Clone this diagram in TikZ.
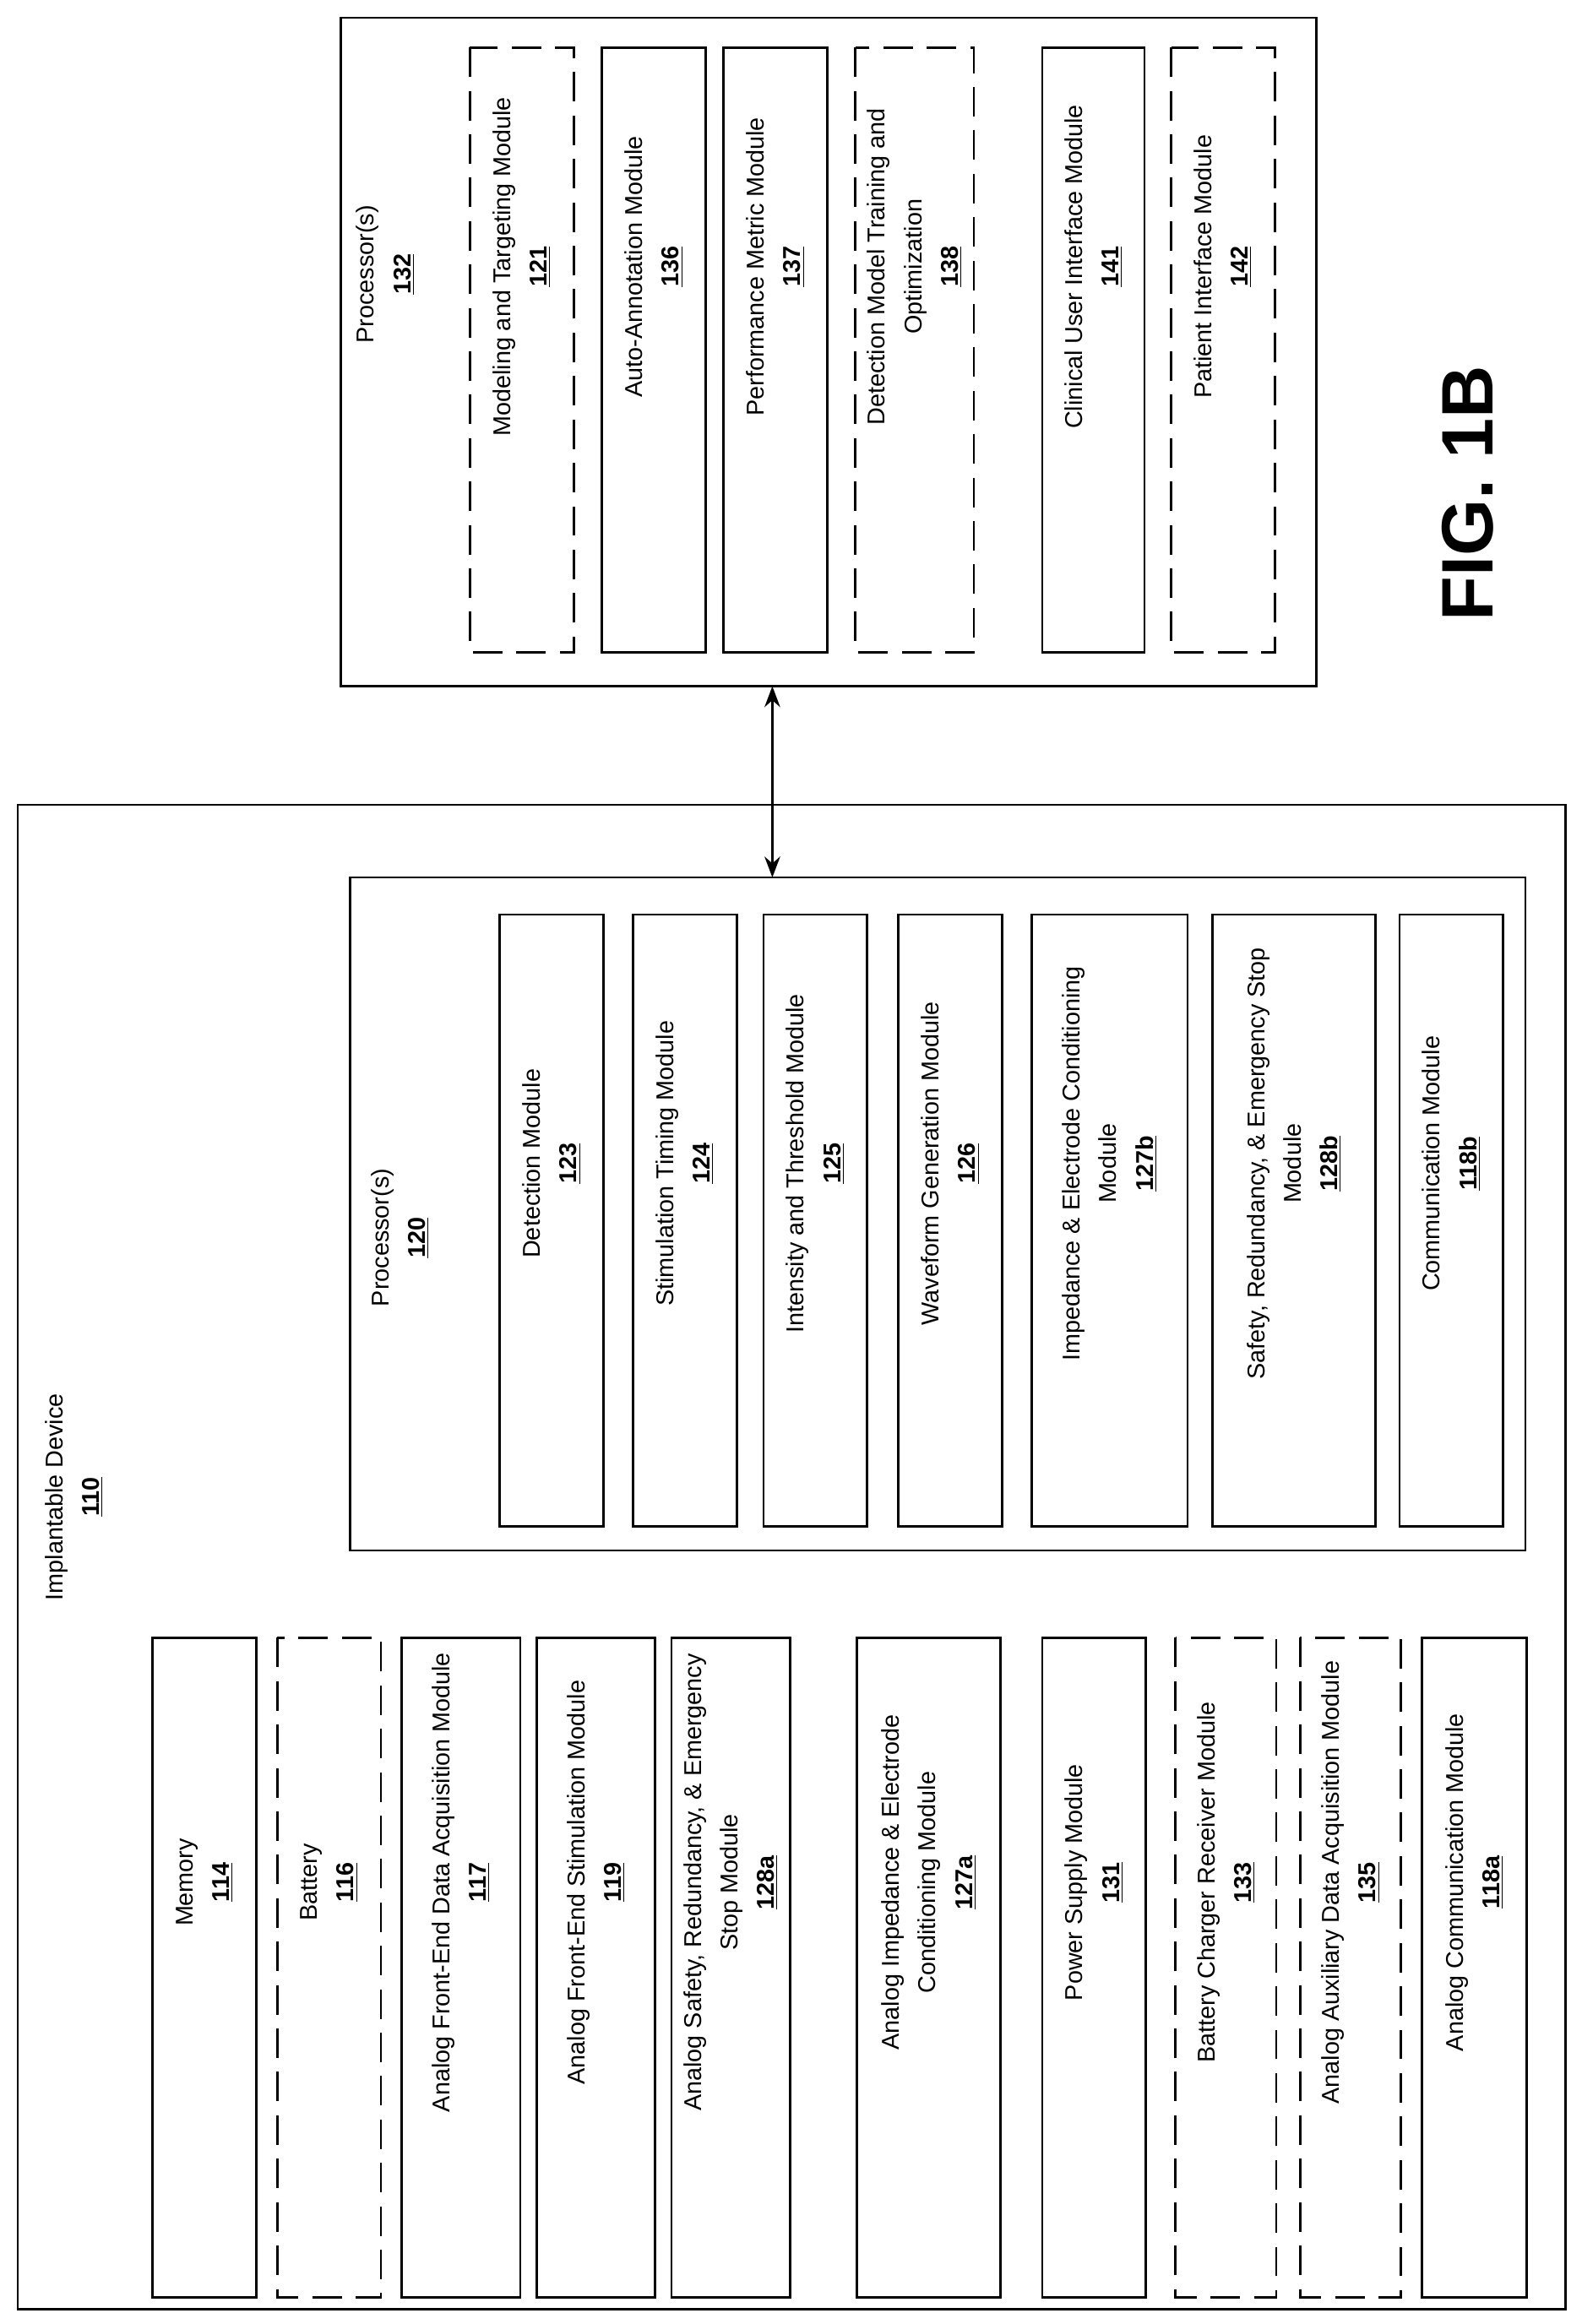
\documentclass[tikz,border=0pt]{standalone}
\usepackage{fontspec}
\setmainfont{Liberation Sans}
\usetikzlibrary{arrows.meta}
\newcommand{\nm}[1]{\underline{\textbf{#1}}}
\begin{document}
\begin{tikzpicture}[x=0.03cm,y=-0.03cm,
  every node/.style={font=\fontsize{14}{21}\selectfont},
  bx/.style={draw,line width=1.3pt},
  dbx/.style={draw,line width=1.3pt,dash pattern=on 17pt off 8pt},
  rt/.style={rotate=90,align=center,inner sep=0pt}]
\useasboundingbox (0,0) rectangle (1067,1568);
% outer boxes
\draw[bx] (12,543) rectangle (1056,1558);
\node[rt] (lab110) at (50,1010) {Implantable Device\\\nm{110}};
\draw[bx] (236,592) rectangle (1029,1046);
\node[rt] (lab120) at (270,835) {Processor(s)\\\nm{120}};
\draw[bx] (230,12) rectangle (888,463);
\node[rt] (lab132) at (260,185) {Processor(s)\\\nm{132}};
% top processor modules
\foreach \a/\b/\s/\t in {317/387/dbx/{Modeling and Targeting Module\\\nm{121}},
 406/476/bx/{Auto-Annotation Module\\\nm{136}},
 488/558/bx/{Performance Metric Module\\\nm{137}},
 577/657/dbx/{Detection Model Training and\\Optimization\\\nm{138}},
 703/772/bx/{Clinical User Interface Module\\\nm{141}},
 790/860/dbx/{Patient Interface Module\\\nm{142}}}{
 \draw[\s] (\a,32) rectangle (\b,440);
 \node[rt] at ({(\a+\b)/2},180) {\t};}
% processor 120 modules
\foreach \a/\b/\t in {337/407/{Detection Module\\\nm{123}},
 427/497/{Stimulation Timing Module\\\nm{124}},
 515/585/{Intensity and Threshold Module\\\nm{125}},
 606/676/{Waveform Generation Module\\\nm{126}},
 696/801/{Impedance \& Electrode Conditioning\\Module\\\nm{127b}},
 818/928/{Safety, Redundancy, \& Emergency Stop\\Module\\\nm{128b}},
 944/1014/{Communication Module\\\nm{118b}}}{
 \draw[bx] (\a,617) rectangle (\b,1030);
 \node[rt] at ({(\a+\b)/2},785) {\t};}
% left column modules
\foreach \a/\b/\s/\t in {103/173/bx/{Memory\\\nm{114}},
 187/257/dbx/{Battery\\\nm{116}},
 271/351/bx/{Analog Front-End Data Acquisition Module\\\nm{117}},
 362/442/bx/{Analog Front-End Stimulation Module\\\nm{119}},
 453/533/bx/{Analog Safety, Redundancy, \& Emergency\\Stop Module\\\nm{128a}},
 578/675/bx/{Analog Impedance \& Electrode\\Conditioning Module\\\nm{127a}},
 703/773/bx/{Power Supply Module\\\nm{131}},
 793/861/dbx/{Battery Charger Receiver Module\\\nm{133}},
 877/945/dbx/{Analog Auxiliary Data Acquisition Module\\\nm{135}},
 959/1030/bx/{Analog Communication Module\\\nm{118a}}}{
 \draw[\s] (\a,1105) rectangle (\b,1550);
 \node[rt] at ({(\a+\b)/2},1270) {\t};}
% link
\coordinate (p132) at (521,463);
\coordinate (p120) at (521,592);
\draw[line width=1.3pt,{Stealth[length=12pt]}-{Stealth[length=12pt]}] (p132) -- (p120);
\node[rotate=90,font=\fontsize{42}{50}\selectfont\bfseries] (fig) at (990,333) {FIG. 1B};
\end{tikzpicture}
\end{document}
